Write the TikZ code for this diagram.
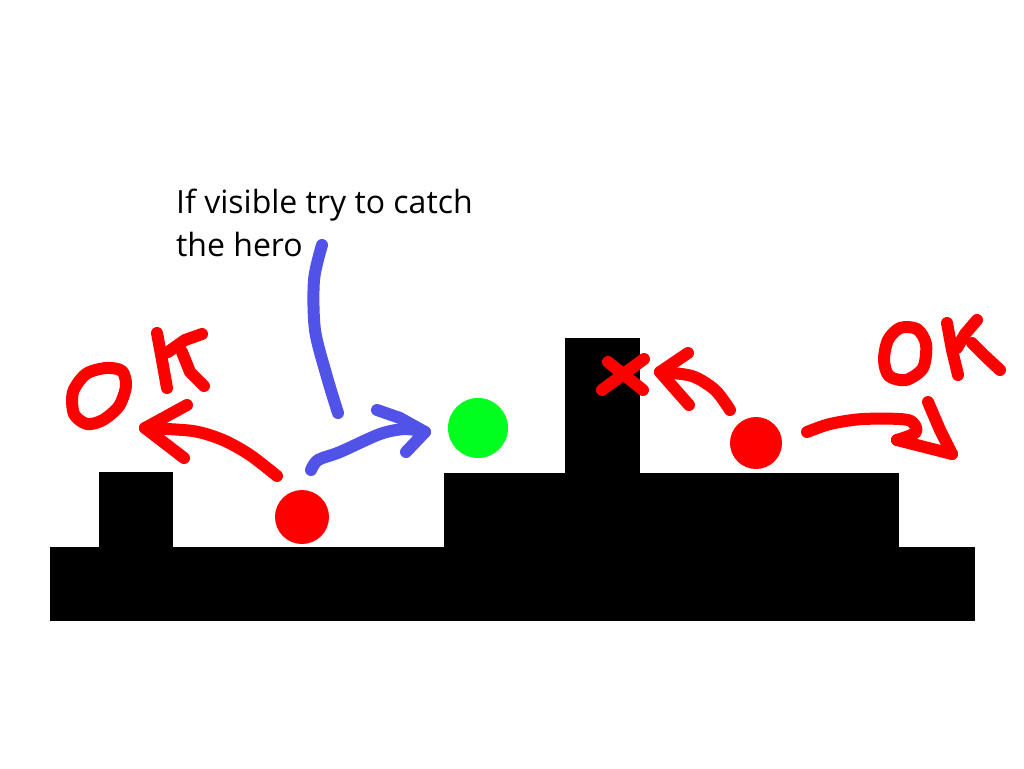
\documentclass[tikz,border=0pt]{standalone}
\usepackage{fontspec}
\setmainfont{Open Sans}
\definecolor{rouge}{RGB}{255,0,0}
\definecolor{bleu}{RGB}{80,82,232}
\definecolor{vert}{RGB}{0,255,30}
\tikzset{
  trait/.style={line width=12pt,line cap=round,line join=round},
}
\begin{document}
\begin{tikzpicture}[x=1pt,y=-1pt]

\useasboundingbox (0,0) rectangle (1024,768);

% Sol
\fill[black]
(50,547) rectangle (975,621);
\fill[black]
(99,472) rectangle (173,547);
\fill[black]
(444,473) rectangle (899,547);
\fill[black]
(565,338) rectangle (640,473);

% Ennemis et hero
\fill[rouge] (302,517) circle (27);
\fill[rouge] (756,443) circle (26);
\fill[vert] (478,428) circle (30);

% Texte
\node[anchor=base west,align=left,font=\fontsize{32}{43}\selectfont,inner sep=0pt]
(texte) at (176,256)
{If visible try to catch\\the hero};

% Fleche bleue
\draw[trait,bleu]
plot[smooth] coordinates {(322,245) (314,280) (315,330) (327,377) (338,413)};
\draw[trait,bleu]
plot[smooth] coordinates {(311,470) (318,460) (340,452) (380,434) (405,429) (425,432)};
\draw[trait,bleu]
(377,410) -- (400,418) -- (425,432) -- (406,452);

% OK a gauche
\draw[trait,rouge]
plot[smooth cycle] coordinates {(74,414) (73,392) (86,374) (106,368) (122,371) (126,386) (119,406) (103,420) (87,424)};
\draw[trait,rouge]
(157,333) -- (162,360) -- (167,388);
\draw[trait,rouge]
(202,334) -- (185,340) -- (168,352);
\draw[trait,rouge]
(182,352) -- (190,372) -- (204,386);

% Fleche gauche
\draw[trait,rouge]
plot[smooth] coordinates {(277,476) (250,455) (223,440) (193,431) (145,428)};
\draw[trait,rouge]
(187,405) -- (145,428) -- (184,458);

% Croix
\draw[trait,rouge]
(608,362) -- (643,390);
\draw[trait,rouge]
(644,359) -- (602,390);

% Fleche vers le mur
\draw[trait,rouge]
plot[smooth] coordinates {(730,410) (715,390) (692,376) (660,372)};
\draw[trait,rouge]
(688,353) -- (660,372) -- (689,405);

% Fleche droite
\draw[trait,rouge]
plot[smooth] coordinates {(807,432) (830,424) (863,419) (908,420) (916,432) (897,440)};
\draw[trait,rouge]
(897,440) -- (952,454);
\draw[trait,rouge]
(928,402) -- (940,430) -- (952,454);

% OK a droite
\draw[trait,rouge]
plot[smooth cycle] coordinates {(884,360) (888,340) (900,328) (917,329) (926,344) (923,368) (906,380) (889,376)};
\draw[trait,rouge]
(947,323) -- (952,350) -- (958,375);
\draw[trait,rouge]
(977,320) -- (965,334) -- (957,348);
\draw[trait,rouge]
(972,343) -- (986,357) -- (1000,370);

\end{tikzpicture}
\end{document}
